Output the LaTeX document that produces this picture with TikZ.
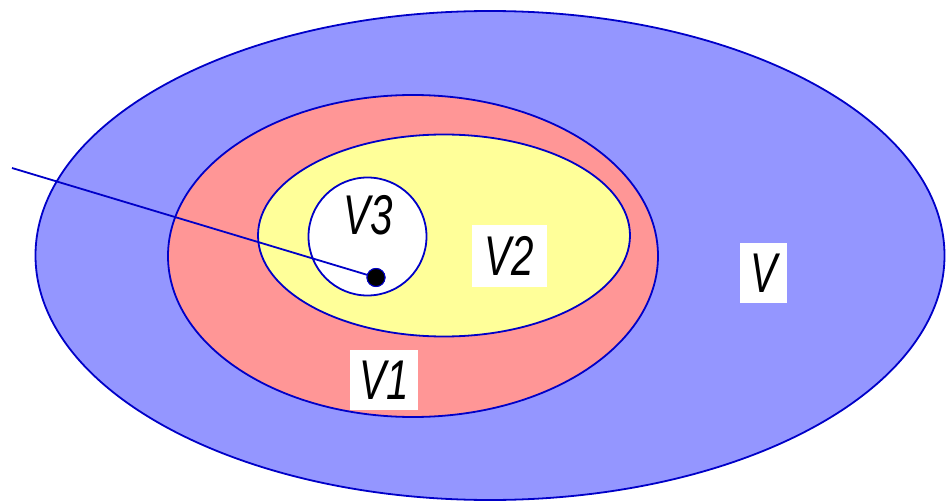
\documentclass[tikz,border=0pt]{standalone}
\usepackage{fontspec}
\setmainfont{Liberation Sans}
\begin{document}
\begin{tikzpicture}[x=1pt,y=-1pt,
  edge/.style={draw=ringblue,line width=1.8pt},
  lbl/.style={fill=white,inner sep=0pt,font=\fontsize{56}{56}\selectfont\itshape},
  dotstyle/.style={circle,fill=black,draw=ringblue,line width=1pt,minimum size=18pt,inner sep=0pt},
]
\definecolor{ringblue}{RGB}{0,0,200}
\definecolor{vfill}{RGB}{148,150,255}
\definecolor{v1fill}{RGB}{255,150,150}
\definecolor{v2fill}{RGB}{255,255,153}
\useasboundingbox (0,0) rectangle (946,503);
\fill[white] (0,0) rectangle (946,503);
\filldraw[edge,fill=vfill] (490,255.5) ellipse [x radius=454.5,y radius=244.5];
\filldraw[edge,fill=v1fill] (413,256) ellipse [x radius=245,y radius=161];
\filldraw[edge,fill=v2fill] (444,235.5) ellipse [x radius=186,y radius=101];
\filldraw[edge,fill=white] (367.5,236.5) circle [radius=59];
\coordinate (start) at (12,168);
\node[dotstyle] (dot) at (376,277.5) {};
\draw[edge] (start) -- (dot.center);
\node[dotstyle] at (dot) {};
\node[lbl,minimum width=75,minimum height=62] (lv2) at (509.5,256) {\scalebox{0.72}[1]{V2}};
\node[lbl,minimum width=47,minimum height=60] (lv) at (763.5,273) {\scalebox{0.72}[1]{V}};
\node[lbl,minimum width=68,minimum height=60] (lv1) at (384,380) {\scalebox{0.72}[1]{V1}};
\node[lbl,fill=none] (lv3) at (368,215) {\scalebox{0.72}[1]{V3}};
\end{tikzpicture}
\end{document}
